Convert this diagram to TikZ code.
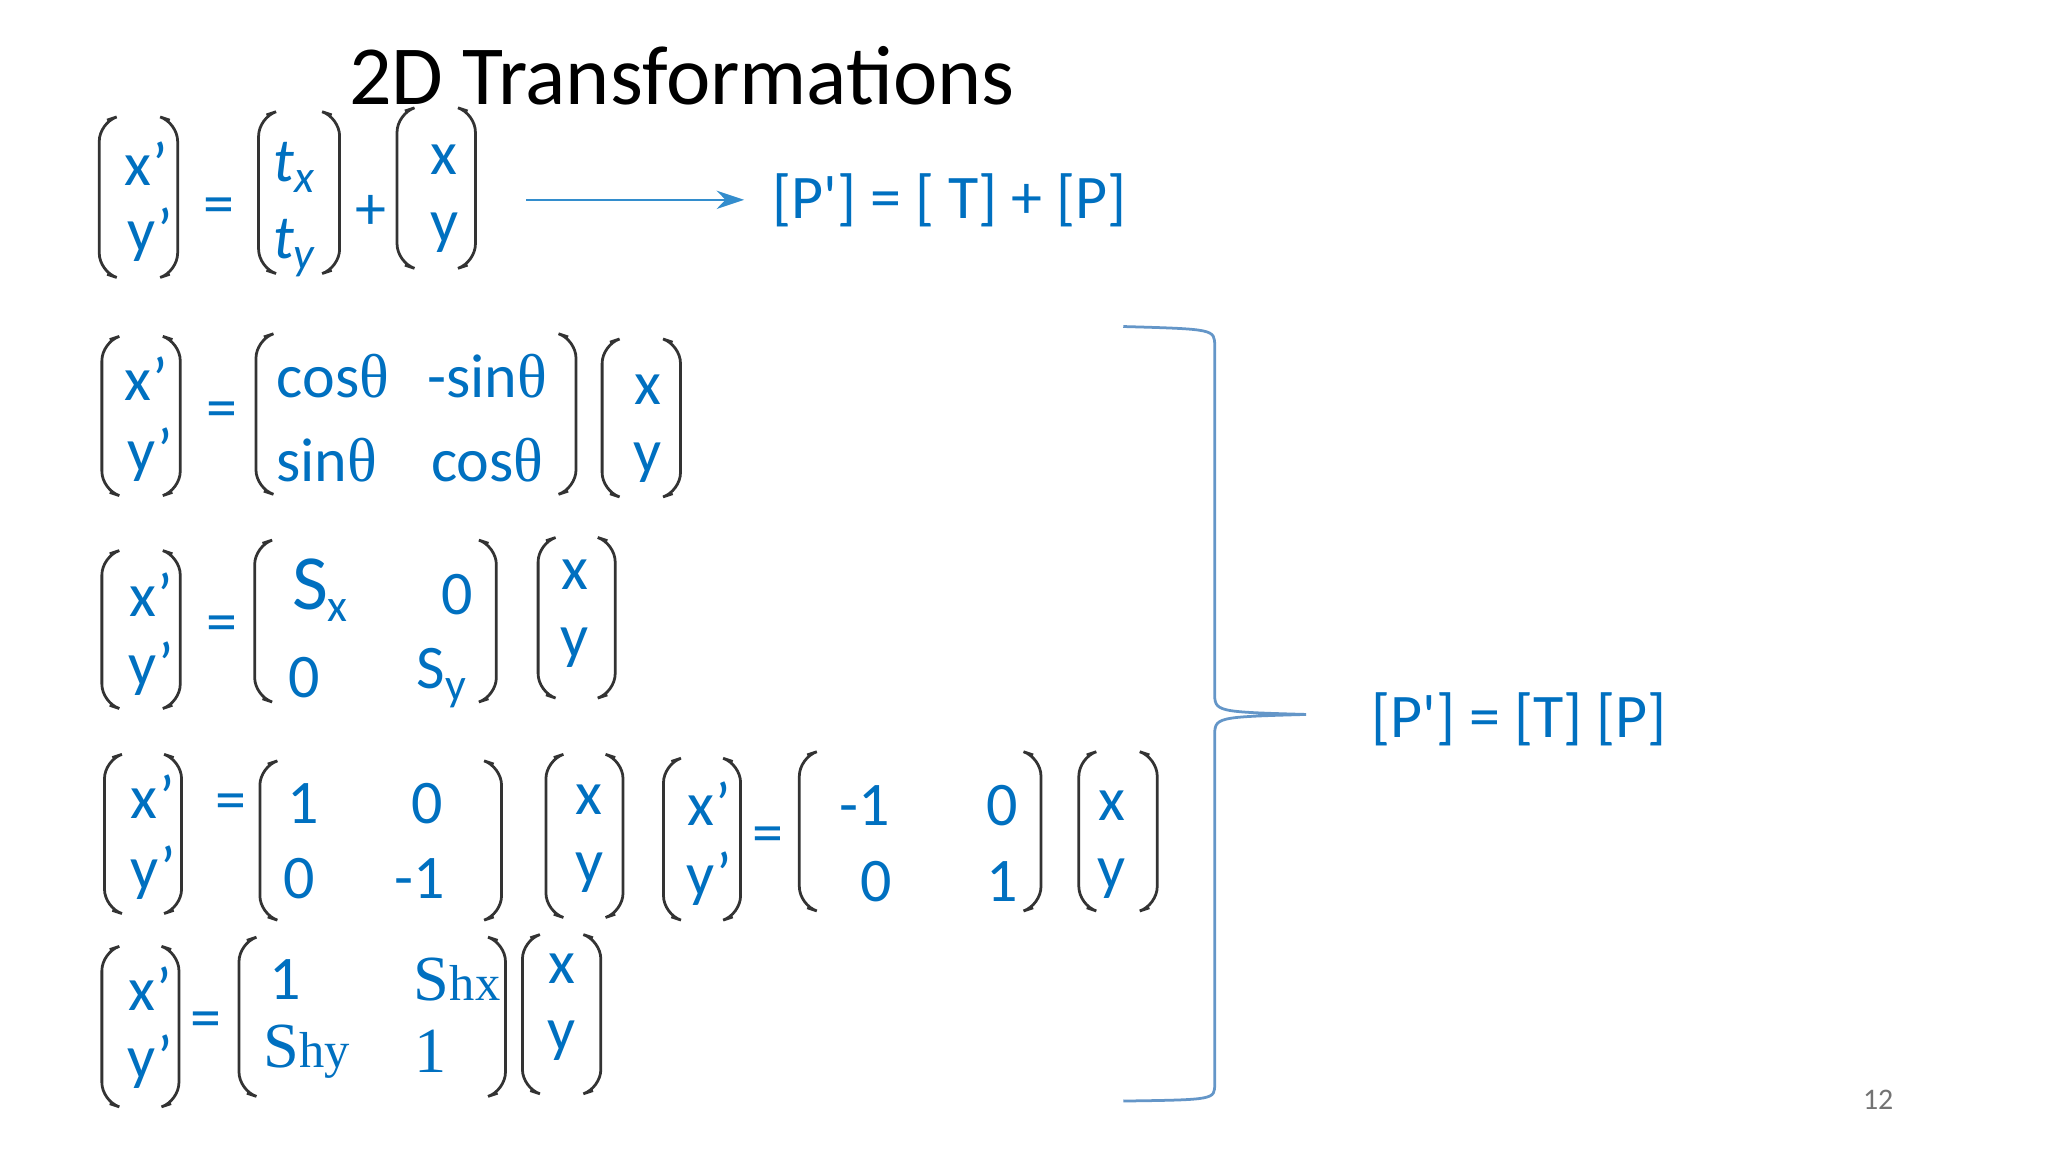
\documentclass[tikz,border=0pt]{standalone}
\usepackage{fontspec}
\setmainfont{Carlito}
\newfontfamily\calf{Carlito}
\newfontfamily\serifgr{Liberation Serif}
\usetikzlibrary{arrows.meta}
\definecolor{ob}{RGB}{0,112,192}
\definecolor{lb}{RGB}{100,150,200}
\newcommand\mbrk[4]{%
\draw[brk] (#1+6,#3) -- (#1,#3+2) -- (#1,#4-2) -- (#1+6,#4);
\draw[brk] (#2-6,#3) -- (#2,#3+2) -- (#2,#4-2) -- (#2-6,#4);}
\newcommand\sbx[1]{\raisebox{-2.5pt}{\fontsize{10}{10}\selectfont #1}}
\tikzset{brk/.style={draw=black!80,line width=0.6pt,rounded corners=4},
 e/.style={text=ob,font=\fontsize{13.5}{13.5}\selectfont\calf,inner sep=0},
 es/.style={text=ob,font=\fontsize{14}{14}\selectfont\serifgr,inner sep=0},
 big/.style={text=ob,font=\fontsize{17}{17}\selectfont\calf,inner sep=0}}
\begin{document}
\begin{tikzpicture}[x=0.01cm,y=-0.01cm]
\useasboundingbox[fill=white] (0,0) rectangle (1568,882);
\node[font=\fontsize{18.3}{18.3}\selectfont] (title) at (522,58) {2D Transformations};
% row 1
\mbrk{76}{136}{92}{210}
\node[e] (a1) at (112,125) {x’}; \node[e] (a2) at (115,180) {y’};
\node[e] (eq1) at (168,162) {=};
\mbrk{198}{260}{88}{207}
\node[e] (t1) at (225,128) {\itshape t\sbx{x}}; \node[e] (t2) at (225,190) {\itshape t\sbx{y}};
\node[e] (pl) at (284,163) {+};
\mbrk{304}{364}{85}{203}
\node[e] (b1) at (340,122) {x}; \node[e] (b2) at (340,178) {y};
\coordinate (as) at (403,153); \node[e] (r1) at (727,153) {[P'] = [ T] + [P]};
\draw[ob!80,-{Stealth[length=6pt,width=4pt]},shorten >=6pt] (as) -- (r1.west);
% row 2
\mbrk{78}{138}{260}{377}
\node[e] at (112,290) {x’}; \node[e] at (115,348) {y’};
\node[e] at (170,318) {=};
\mbrk{196}{441}{258}{376}
\node[e] at (255,288) {cos\serifgr θ}; \node[e] at (373,288) {-sin\serifgr θ};
\node[e] at (250,352) {sin\serifgr θ}; \node[e] at (373,352) {cos\serifgr θ};
\mbrk{461}{521}{262}{378}
\node[e] at (496,298) {x}; \node[e] at (496,354) {y};
% row 3
\mbrk{78}{138}{424}{540}
\node[e] at (116,455) {x’}; \node[e] at (116,512) {y’};
\node[e] at (170,482) {=};
\mbrk{195}{380}{416}{535}
\node[big] at (245,452) {S\sbx{x}}; \node[e] at (350,455) {0};
\node[e] at (233,519) {0}; \node[e] at (338,519) {S\sbx{y}};
\mbrk{412}{471}{414}{532}
\node[e] at (440,440) {x}; \node[e] at (440,496) {y};
% row 4
\mbrk{80}{139}{580}{697}
\node[e] at (117,610) {x’}; \node[e] at (117,668) {y’};
\node[e] at (177,618) {=};
\mbrk{199}{384}{585}{702}
\node[e] at (232,615) {1}; \node[e] at (327,615) {0};
\node[e] at (229,673) {0}; \node[e] at (321,673) {-1};
\mbrk{418}{477}{580}{700}
\node[e] at (451,612) {x}; \node[e] at (451,668) {y};
\mbrk{508}{567}{583}{702}
\node[e] at (543,615) {x’}; \node[e] at (543,673) {y’};
\node[e] at (588,643) {=};
\mbrk{612}{797}{578}{695}
\node[e] at (662,617) {-1}; \node[e] at (767,617) {0};
\node[e] at (671,675) {0}; \node[e] at (767,675) {1};
\mbrk{826}{886}{578}{695}
\node[e] at (851,617) {x}; \node[e] at (851,673) {y};
% row 5
\mbrk{78}{137}{727}{845}
\node[e] at (115,757) {x’}; \node[e] at (115,813) {y’};
\node[e] at (158,785) {=};
\mbrk{183}{387}{720}{837}
\node[e] at (218,750) {1}; \node[es] at (350,750) {S{\fontsize{11}{11}\selectfont hx}};
\node[es] at (235,805) {S{\fontsize{11}{11}\selectfont hy}}; \node[es] at (330,805) {1};
\mbrk{400}{460}{718}{835}
\node[e] at (430,742) {x}; \node[e] at (430,797) {y};
% brace
\coordinate (tip) at (1000,547);
\draw[lb,line width=0.6pt] (860,250) .. controls (930,252) .. (930,265) -- (930,530) .. controls (930,545) .. (tip)
  .. controls (930,549) .. (930,564) -- (930,830) .. controls (930,842) .. (860,843);
\node[e] (r2) at (1163,551) {[P'] = [T] [P]};
\node[text=black!55,font=\fontsize{6.5}{6.5}\selectfont] (pg) at (1438,842) {12};
\end{tikzpicture}
\end{document}
